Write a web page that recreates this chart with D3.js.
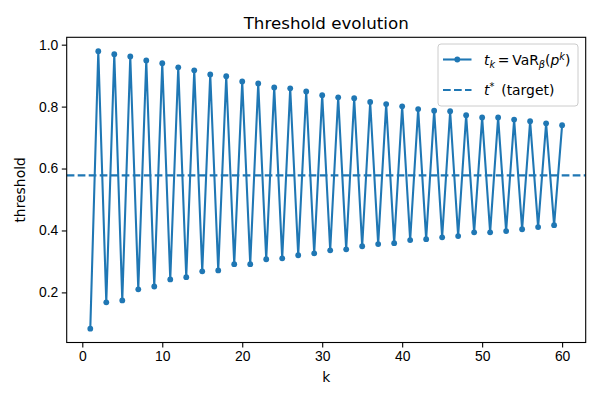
<!DOCTYPE html>
<html>
<head>
<meta charset="utf-8">
<script src="https://cdn.jsdelivr.net/npm/d3@7"></script>
<style>
  body { margin: 0; background: #fff; }
  svg { font-family: "DejaVu Sans", sans-serif; }
</style>
</head>
<body>
<div id="chart"></div>
<script>
// iteration index k and threshold t_k
const kValues = [
    1, 2, 3, 4, 5, 6, 7, 8, 9, 10, 11, 12, 13, 14, 15, 16, 17, 18, 19, 20,
    21, 22, 23, 24, 25, 26, 27, 28, 29, 30, 31, 32, 33, 34, 35, 36, 37, 38, 39, 40,
    41, 42, 43, 44, 45, 46, 47, 48, 49, 50, 51, 52, 53, 54, 55, 56, 57, 58, 59, 60
];
const thresholds = [
    0.083, 0.979, 0.168, 0.969, 0.174, 0.962, 0.210, 0.949, 0.219, 0.940,
    0.242, 0.927, 0.249, 0.917, 0.268, 0.904, 0.271, 0.898, 0.291, 0.881,
    0.291, 0.875, 0.307, 0.862, 0.310, 0.859, 0.320, 0.849, 0.326, 0.837,
    0.336, 0.830, 0.339, 0.827, 0.349, 0.815, 0.356, 0.808, 0.359, 0.801,
    0.369, 0.792, 0.372, 0.787, 0.378, 0.785, 0.382, 0.772, 0.394, 0.765,
    0.394, 0.765, 0.398, 0.758, 0.404, 0.753, 0.411, 0.746, 0.417, 0.740
];
const target = 0.578;
const xTicks = [0, 10, 20, 30, 40, 50, 60];
const yTicks = [0.2, 0.4, 0.6, 0.8, 1.0];

const width = 600, height = 400;
const margin = { top: 37.3, right: 14.3, bottom: 57.5, left: 66.7 };
const color = '#1f77b4';

const pad = (ext) => {
    const d = (ext[1] - ext[0]) * 0.05;
    return [ext[0] - d, ext[1] + d];
};

const x = d3.scaleLinear()
    .domain(pad(d3.extent(kValues)))
    .range([margin.left, width - margin.right]);

const y = d3.scaleLinear()
    .domain(pad(d3.extent(thresholds)))
    .range([height - margin.bottom, margin.top]);

const svg = d3.select('#chart').append('svg')
    .attr('width', width)
    .attr('height', height);

const xAxis = g => g
    .attr('transform', `translate(0,${height - margin.bottom})`)
    .call(d3.axisBottom(x).tickValues(xTicks).tickFormat(d3.format('d')).tickSizeOuter(0).tickSize(4.9).tickPadding(3.5))
    .call(g => g.select('.domain').remove());

const yAxis = g => g
    .attr('transform', `translate(${margin.left},0)`)
    .call(d3.axisLeft(y).tickValues(yTicks).tickFormat(d3.format('.1f')).tickSizeOuter(0).tickSize(4.9).tickPadding(3.5))
    .call(g => g.select('.domain').remove());

svg.append('g').call(xAxis);
svg.append('g').call(yAxis);

svg.selectAll('.tick line').attr('stroke', '#000').attr('stroke-width', 1.1);
svg.selectAll('.tick text').attr('fill', '#000').style('font-size', '13.9px');

// target line
const clip = svg.append('clipPath').attr('id', 'plotclip')
    .append('rect')
    .attr('x', margin.left).attr('y', margin.top)
    .attr('width', width - margin.left - margin.right)
    .attr('height', height - margin.top - margin.bottom);

svg.append('line')
    .attr('clip-path', 'url(#plotclip)')
    .attr('x1', margin.left).attr('x2', width - margin.right)
    .attr('y1', y(target)).attr('y2', y(target))
    .attr('stroke', color)
    .attr('stroke-width', 2.08)
    .attr('stroke-dasharray', '7.7,3.3');

const line = d3.line()
    .x((d, i) => x(kValues[i]))
    .y(d => y(d));

svg.append('path')
    .datum(thresholds)
    .attr('fill', 'none')
    .attr('stroke', color)
    .attr('stroke-width', 2.08)
    .attr('stroke-linejoin', 'round')
    .attr('d', line);

svg.append('g')
    .selectAll('circle')
    .data(thresholds)
    .join('circle')
    .attr('cx', (d, i) => x(kValues[i]))
    .attr('cy', d => y(d))
    .attr('r', 2.9)
    .attr('fill', color);

// frame
svg.append('rect')
    .attr('x', margin.left).attr('y', margin.top)
    .attr('width', width - margin.left - margin.right)
    .attr('height', height - margin.top - margin.bottom)
    .attr('fill', 'none')
    .attr('stroke', '#000')
    .attr('stroke-width', 1.1);

// title and labels
svg.append('text')
    .attr('x', (margin.left + width - margin.right) / 2)
    .attr('y', 29)
    .attr('text-anchor', 'middle')
    .style('font-size', '16.7px')
    .text('Threshold evolution');

svg.append('text')
    .attr('x', (margin.left + width - margin.right) / 2)
    .attr('y', 382)
    .attr('text-anchor', 'middle')
    .style('font-size', '13.9px')
    .text('k');

svg.append('text')
    .attr('transform', `translate(25,${(margin.top + height - margin.bottom) / 2}) rotate(-90)`)
    .attr('text-anchor', 'middle')
    .style('font-size', '13.9px')
    .text('threshold');

// legend
const lg = svg.append('g').attr('transform', 'translate(438,44)');
lg.append('rect')
    .attr('width', 140).attr('height', 62)
    .attr('rx', 3)
    .attr('fill', '#fff').attr('fill-opacity', 0.8)
    .attr('stroke', '#ccc').attr('stroke-width', 1);

lg.append('line')
    .attr('x1', 5).attr('x2', 33.5).attr('y1', 15.5).attr('y2', 15.5)
    .attr('stroke', color).attr('stroke-width', 2.08);
lg.append('circle')
    .attr('cx', 19.3).attr('cy', 15.5).attr('r', 2.9).attr('fill', color);
lg.append('line')
    .attr('x1', 5).attr('x2', 33.5).attr('y1', 46).attr('y2', 46)
    .attr('stroke', color).attr('stroke-width', 2.08)
    .attr('stroke-dasharray', '7.7,3.3');

const t1 = lg.append('text').attr('x', 46).attr('y', 20.5).style('font-size', '13.9px');
t1.append('tspan').attr('font-style', 'italic').text('t');
t1.append('tspan').attr('font-style', 'italic').attr('dy', 3).style('font-size', '9.7px').text('k');
t1.append('tspan').attr('dy', -3).text('\u2009=\u2009VaR');
t1.append('tspan').attr('font-style', 'italic').attr('dy', 3).style('font-size', '9.7px').text('\u03B2');
t1.append('tspan').attr('dy', -3).text('(');
t1.append('tspan').attr('font-style', 'italic').text('p');
t1.append('tspan').attr('font-style', 'italic').attr('dy', -5).style('font-size', '9.7px').text('k');
t1.append('tspan').attr('dy', 5).text(')');

const t2 = lg.append('text').attr('x', 46).attr('y', 51).style('font-size', '13.9px');
t2.append('tspan').attr('font-style', 'italic').text('t');
t2.append('tspan').attr('dy', -5).style('font-size', '9.7px').text('*');
t2.append('tspan').attr('dy', 5).text('\u2002(target)');
</script>
</body>
</html>
